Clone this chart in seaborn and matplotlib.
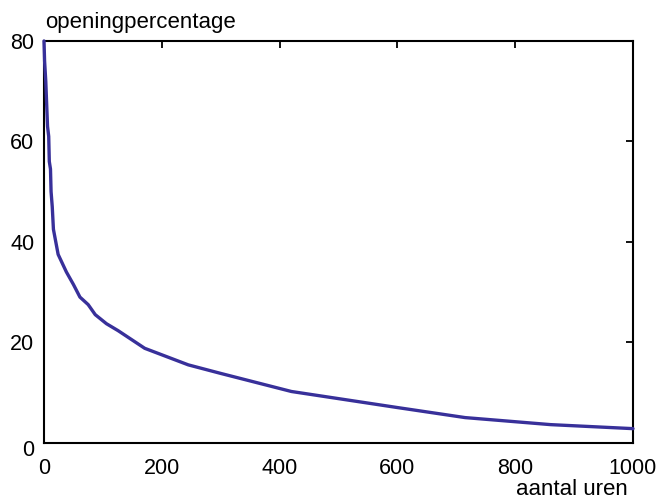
import matplotlib
matplotlib.use("Agg")
import matplotlib.pyplot as plt
import matplotlib.transforms as mtransforms
import seaborn as sns
import pandas as pd

# data
hours = [0, 1, 3, 6, 8, 9, 11, 12, 14, 16, 24, 38, 50, 61, 75, 87, 106, 126, 171, 245, 300, 420, 600, 715, 860, 1000]
opening = [80, 76, 72, 63, 61, 56, 54.5, 50, 47, 42.5, 37.5, 34, 31.5, 29, 27.5, 25.5, 23.7, 22.3, 18.8, 15.5, 13.8, 10.2, 7.0, 5.0, 3.6, 2.8]
x_ticks = [0, 200, 400, 600, 800, 1000]
y_ticks = [0, 20, 40, 60, 80]
x_label = "aantal uren"
y_label = "openingpercentage"

sns.set_style("white")
plt.rcParams["font.family"] = ["Liberation Sans", "DejaVu Sans"]
plt.rcParams["text.color"] = "black"
plt.rcParams["axes.labelcolor"] = "black"
plt.rcParams["xtick.color"] = "black"
plt.rcParams["ytick.color"] = "black"

df = pd.DataFrame({"uren": hours, "opening": opening})

fig = plt.figure(figsize=(6.59, 4.99), dpi=100)
ax = fig.add_axes([44 / 659, 1 - 442.7 / 499, 589 / 659, 401.7 / 499])

sns.lineplot(data=df, x="uren", y="opening", ax=ax, color="#38309a",
             linewidth=2.4, sort=False, clip_on=False, zorder=3)

ax.set_xlim(0, 1000)
ax.set_ylim(0, 80)
ax.set_xticks(x_ticks)
ax.set_yticks(y_ticks)
ax.tick_params(direction="in", top=True, right=True, length=5, width=1.3,
               labelsize=15.5, colors="black", labelcolor="black", pad=7)
ax.tick_params(axis="x", pad=11)
for s in ax.spines.values():
    s.set_linewidth(1.5)
    s.set_color("black")

ax.set_xlabel(x_label, fontsize=16, color="black")
ax.xaxis.set_label_coords(0.9915, -0.13)
ax.xaxis.label.set_ha("right")
ax.xaxis.label.set_va("baseline")
ax.set_ylabel(y_label, fontsize=16, rotation=0, ha="left", va="baseline", color="black")
ax.yaxis.set_label_coords(0.002, 1.032)

fig.canvas.draw()
# the reference drops the y "0" label slightly below the axis
ylab0 = ax.get_yticklabels()[0]
ylab0.set_transform(ylab0.get_transform() + mtransforms.ScaledTranslation(0, -5 / 100, fig.dpi_scale_trans))

fig.savefig("out.png", dpi=100)
